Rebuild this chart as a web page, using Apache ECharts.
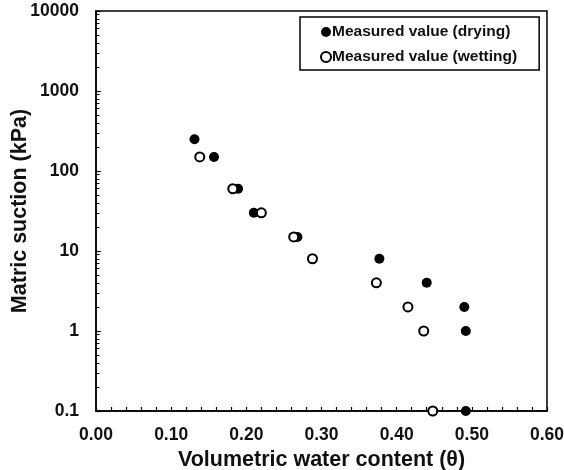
<!DOCTYPE html>
<html><head><meta charset="utf-8">
<script src="https://cdn.jsdelivr.net/npm/echarts@6/dist/echarts.min.js"></script>
<style>html,body{margin:0;padding:0;background:#fff}#c{width:564px;height:470px}</style>
</head><body><div id="c"></div>
<script>
var dryingX = [0.131, 0.157, 0.189, 0.210, 0.268, 0.377, 0.440, 0.490, 0.492, 0.492];
var dryingY = [250, 150, 60, 30, 15, 8, 4, 2, 1, 0.1];
var wettingX = [0.138, 0.182, 0.220, 0.263, 0.288, 0.373, 0.415, 0.436, 0.448];
var wettingY = [150, 60, 30, 15, 8, 4, 2, 1, 0.1];
var xTicks = ['0.00','0.10','0.20','0.30','0.40','0.50','0.60'];
var yTicks = [0.1, 1, 10, 100, 1000, 10000];
var yTickLabels = ['0.1','1','10','100','1000','10000'];
var decades = [0.1, 1, 10, 100, 1000];
var minorMultipliers = [2, 3, 4, 5, 6, 7, 8, 9];

var yMinorValues = [];
decades.forEach(function(d){ minorMultipliers.forEach(function(m){ yMinorValues.push(+(d*m).toPrecision(6)); }); });

function pairs(xs, ys){ return xs.map(function(x,i){ return [x, ys[i]]; }); }
var font = 'Liberation Sans, Arial, sans-serif';
var txt = '#111';
var chart = echarts.init(document.getElementById('c'));
chart.setOption({
  animation: false,
  grid: {left: 96, right: 17, top: 11, bottom: 59, show: true, borderColor: '#000', borderWidth: 1.5,
    containLabel: false, outerBoundsMode: 'none'},
  legend: {
    left: 300, top: 17, orient: 'vertical',
    borderColor: '#000', borderWidth: 1.5, padding: [7, 22, 5, 20], itemGap: 9,
    itemWidth: 10, itemHeight: 10, backgroundColor: '#fff',
    textStyle: {fontFamily: font, fontWeight: 'bold', fontSize: 15.5, lineHeight: 16, color: txt, padding: [0,0,0,-4]},
    data: ['Measured value (drying)', 'Measured value (wetting)']
  },
  xAxis: {
    type: 'value', min: 0, max: 0.6, interval: 0.1,
    name: 'Volumetric water content (θ)', nameLocation: 'middle', nameGap: 38, nameMoveOverlap: false,
    nameTextStyle: {fontFamily: font, fontWeight: 'bold', fontSize: 21.5, color: txt},
    axisLine: {show: true, lineStyle: {color: '#000', width: 1.5}},
    axisTick: {show: true, inside: true, length: 4, lineStyle: {color: '#000', width: 1.2}},
    minorTick: {show: true, splitNumber: 5, length: 4, lineStyle: {color: '#000', width: 1.2}},
    splitLine: {show: false},
    axisLabel: {fontFamily: font, fontWeight: 'bold', fontSize: 17.5, color: txt, margin: 15, hideOverlap: false,
      formatter: function(v){ var s = v.toFixed(2); return xTicks.indexOf(s) >= 0 ? s : ''; }}
  },
  yAxis: [{
    type: 'log', min: 0.1, max: 10000, logBase: 10,
    name: 'Matric suction (kPa)', nameLocation: 'middle', nameGap: 65, nameMoveOverlap: false,
    nameTextStyle: {fontFamily: font, fontWeight: 'bold', fontSize: 21.5, color: txt},
    axisLine: {show: true, lineStyle: {color: '#000', width: 1.5}},
    axisTick: {show: true, inside: true, length: 5, lineStyle: {color: '#000', width: 1.2}},
    splitLine: {show: false},
    axisLabel: {fontFamily: font, fontWeight: 'bold', fontSize: 17.5, color: txt, margin: 17,
      customValues: yTicks,
      formatter: function(v){ var i = yTicks.indexOf(+(+v).toPrecision(6)); return i >= 0 ? yTickLabels[i] : ''; }}
  }, {
    type: 'log', min: 0.1, max: 10000, logBase: 10, position: 'left', offset: 0,
    axisLine: {show: false},
    axisTick: {show: true, inside: true, length: 3.5, customValues: yMinorValues, lineStyle: {color: '#000', width: 1}},
    axisLabel: {show: false},
    splitLine: {show: false}
  }],
  series: [
    {name: 'Measured value (drying)', type: 'scatter', symbol: 'circle', symbolSize: 10,
      itemStyle: {color: '#000', borderColor: '#000', borderWidth: 0, opacity: 1},
      data: pairs(dryingX, dryingY), z: 3},
    {name: 'Measured value (wetting)', type: 'scatter', symbol: 'circle', symbolSize: 9,
      itemStyle: {color: '#fff', borderColor: '#000', borderWidth: 2, opacity: 1},
      data: pairs(wettingX, wettingY), z: 4}
  ]
});
</script></body></html>
